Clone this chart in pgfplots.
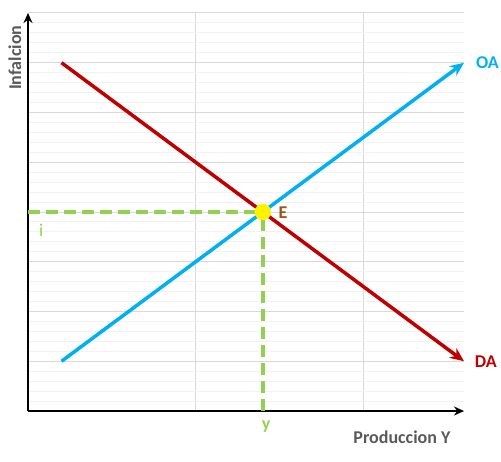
\documentclass[border=0pt]{standalone}
\usepackage{pgfplots}
\pgfplotsset{compat=1.18}
\usepackage{fontspec}
\setmainfont{Carlito}
\usetikzlibrary{arrows.meta}

\definecolor{daRed}{HTML}{C00000}
\definecolor{oaBlue}{HTML}{00B0F0}
\definecolor{eqGreen}{HTML}{92D050}
\definecolor{eBrown}{HTML}{A5501A}
\definecolor{labGray}{HTML}{595959}
\definecolor{gridMaj}{HTML}{D9D9D9}
\definecolor{gridMin}{HTML}{F2F2F2}

\begin{document}
\begin{tikzpicture}
  \useasboundingbox (-28pt,-50pt) rectangle (473pt,411pt);
  \begin{axis}[
      at={(0pt,0pt)}, anchor=origin,
      scale only axis,
      width=436pt, height=398pt,
      xmin=0, xmax=2.6, ymin=0, ymax=8,
      axis lines=left,
      axis line style={black, line width=2pt, -{Stealth[length=10pt,width=9pt]}},
      xtick={0,1,2}, ytick={0,1,...,8},
      minor y tick num=4,
      xticklabels={}, yticklabels={},
      major tick length=0pt, minor tick length=0pt,
      grid=both,
      major grid style={gridMaj, line width=1pt},
      minor grid style={gridMin, line width=1pt},
      clip=false,
      font=\fontsize{18}{21}\selectfont,
    ]
    % dashed guides to the equilibrium
    \addplot[eqGreen, line width=3.5pt, dash pattern=on 12pt off 6pt] coordinates {(0,4) (1.4,4)};
    \addplot[eqGreen, line width=3.5pt, dash pattern=on 12pt off 6pt] coordinates {(1.4,0) (1.4,4)};
    % DA and OA
    \addplot[daRed, line width=3.5pt, -{Stealth[length=14pt,width=12pt]}] coordinates {(0.2,7) (2.6,1)};
    \addplot[oaBlue, line width=3.5pt, -{Stealth[length=14pt,width=12pt]}] coordinates {(0.2,1) (2.6,7)};
    % equilibrium point
    \addplot[only marks, mark=*, mark size=8pt, mark options={fill=yellow, draw=yellow}] coordinates {(1.4,4)};

    \node[text=oaBlue, font=\fontsize{18}{21}\selectfont\bfseries] at (axis cs:2.74,7) {OA};
    \node[text=daRed, font=\fontsize{18}{21}\selectfont\bfseries] at (axis cs:2.73,0.985) {DA};
    \node[text=eBrown, font=\fontsize{18}{21}\selectfont\bfseries] at (axis cs:1.52,3.98) {E};
    \node[text=eqGreen] at (axis cs:0.078,3.64) {i};
    \node[text=eqGreen, font=\fontsize{18}{21}\selectfont\bfseries] at (axis cs:1.42,-0.32) {y};
    \node[text=labGray, font=\fontsize{18}{21}\selectfont\bfseries] at (axis cs:2.23,-0.52) {Produccion Y};
    \node[text=labGray, rotate=90, font=\fontsize{18}{21}\selectfont\bfseries] at (axis cs:-0.078,7.1) {Infalcion};
  \end{axis}
\end{tikzpicture}
\end{document}
